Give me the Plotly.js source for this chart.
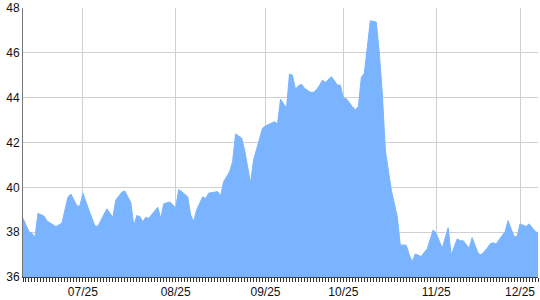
<!DOCTYPE html>
<html>
<head>
<meta charset="utf-8">
<script src="https://cdn.plot.ly/plotly-3.0.1.min.js"></script>
<style>html,body{margin:0;padding:0;background:#fff;}#chart{width:540px;height:300px;}</style>
</head>
<body>
<div id="chart"></div>
<script>
// trading-day index (x) and value (y)
const dayIndex = [0,2,3,4,5,7,8,11,13,15,16,18,19,20,22,24,25,28,30,31,33,34,36,37,38,39,40,41,42,44,45,46,47,49,51,52,53,55,56,57,58,60,61,62,64,65,66,67,69,70,71,72,73,74,76,77,78,80,81,84,85,86,88,89,90,91,92,93,94,96,97,98,99,100,101,103,105,106,107,108,110,111,112,113,114,116,118,119,120,121,123,125,126,128,129,130,131,133,134,135,137,138,140,141,142,143,145,146,147,149,150,152,153,155,156,157,158,160,161,162,164,165,166,168,169,171,172];
const values = [38.62,38.02,37.95,37.77,38.84,38.72,38.5,38.25,38.4,39.56,39.7,39.17,39.17,39.74,38.99,38.28,38.26,39.04,38.66,39.44,39.78,39.84,39.32,38.29,38.74,38.7,38.47,38.66,38.62,38.95,39.11,38.62,39.26,39.35,39.09,39.9,39.81,39.58,38.77,38.47,38.99,39.58,39.51,39.74,39.77,39.81,39.62,40.25,40.7,41.15,42.38,42.3,42.2,41.67,40.18,41.22,41.67,42.64,42.74,42.93,42.83,43.93,43.53,45.06,45.0,44.38,44.53,44.6,44.42,44.24,44.24,44.35,44.54,44.78,44.68,44.94,44.56,44.56,43.98,43.95,43.6,43.46,43.6,44.9,45.09,47.43,47.37,45.99,44.2,41.67,39.88,38.69,37.43,37.42,36.98,36.68,37.03,36.91,37.1,37.25,38.1,37.95,37.28,37.77,38.2,36.98,37.7,37.62,37.62,37.28,37.76,37.06,36.98,37.28,37.47,37.53,37.47,37.84,38.02,38.51,37.8,37.8,38.37,38.25,38.37,38.05,37.95];
const monthTickIndex = [20,51,81,107,138,166];
const monthTickLabels = ['07/25','08/25','09/25','10/25','11/25','12/25'];
const yTicks = [36,38,40,42,44,46,48];

const trace = {
  x: dayIndex, y: values, type: 'scatter', mode: 'lines',
  fill: 'tozeroy', fillcolor: 'rgb(122,180,255)',
  line: {color: 'rgb(122,180,255)', width: 1},
  hoverinfo: 'skip'
};
const layout = {
  width: 540, height: 300,
  margin: {l: 23, r: 2, t: 8, b: 23},
  paper_bgcolor: '#fff', plot_bgcolor: '#fff',
  showlegend: false,
  font: {family: 'Liberation Sans, Arial, sans-serif', size: 12, color: '#111'},
  xaxis: {
    range: [0, 172], tickmode: 'array', tickvals: monthTickIndex, ticktext: monthTickLabels,
    showgrid: true, gridcolor: '#d0d0d0', gridwidth: 1,
    showline: true, linecolor: '#444', linewidth: 1,
    ticks: 'outside', ticklen: 4, tickcolor: '#333', tickwidth: 1,
    minor: {dtick: 1, tick0: 0, ticks: 'outside', ticklen: 4, tickcolor: '#333', tickwidth: 1, showgrid: false},
    zeroline: false, fixedrange: true
  },
  yaxis: {
    range: [36, 48], tickmode: 'array', tickvals: yTicks,
    showgrid: true, gridcolor: '#d0d0d0', gridwidth: 1,
    showline: true, linecolor: '#777', linewidth: 1,
    ticks: '', ticklabelstandoff: 0,
    zeroline: false, fixedrange: true
  }
};
Plotly.newPlot('chart', [trace], layout, {staticPlot: true, displayModeBar: false});
</script>
</body>
</html>
